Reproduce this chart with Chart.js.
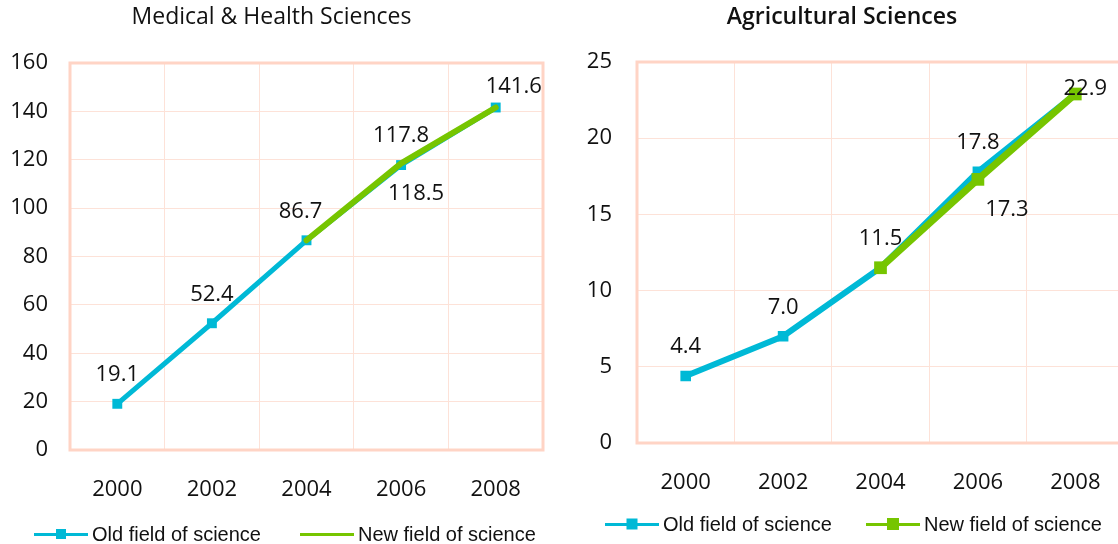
<!DOCTYPE html>
<html lang="en">

<head>
  <meta charset="UTF-8">
  <title>Medical &amp; Health / Agricultural Sciences</title>
  <script src="https://cdn.jsdelivr.net/npm/chart.js"></script>
  <style>
    body {
      margin: 0;
      width: 1118px;
      height: 544px;
      overflow: hidden;
      background: #fff;
      position: relative;
    }

    .painel {
      position: absolute;
      top: 0;
      height: 544px;
    }

    .legenda {
      position: absolute;
      font-family: "Liberation Sans", Arial, sans-serif;
      font-size: 20px;
      color: #111;
      white-space: nowrap;
    }

    .legenda .item {
      position: absolute;
      top: 0;
      display: flex;
      align-items: center;
      height: 24px;
    }

    .legenda .traco {
      position: relative;
      width: 54px;
      height: 3px;
      margin-right: 4px;
    }

    .legenda .quadrado {
      position: absolute;
      left: 50%;
      top: 50%;
      transform: translate(-50%, -50%);
    }
  </style>
</head>

<body>
  <div class="painel" style="left:0;width:560px"><canvas id="grafMed" width="560" height="544"></canvas></div>
  <div class="painel" style="left:560px;width:580px"><canvas id="grafAgr" width="580" height="544"></canvas></div>
  <div class="legenda" id="legMed" style="top:522px"></div>
  <div class="legenda" id="legAgr" style="top:512px"></div>
</body>

</html>

<script>
  // years on the x axis
  const anos = ['2000', '2002', '2004', '2006', '2008'];
  const series = ['Old field of science', 'New field of science'];

  // Medical & Health Sciences
  const medAntigo = [19.1, 52.4, 86.7, 117.8, 141.6];
  const medNovo = [null, null, 86.7, 118.5, 141.6];
  const medTicks = [0, 20, 40, 60, 80, 100, 120, 140, 160];

  // Agricultural Sciences
  const agrAntigo = [4.4, 7.0, 11.5, 17.8, 22.9];
  const agrNovo = [null, null, 11.5, 17.3, 22.9];
  const agrTicks = [0, 5, 10, 15, 20, 25];

  const corAntigo = '#00B9D6';
  const corNovo = '#76C500';
  const corGrade = '#FDE2D8';
  const corMoldura = '#FFD4C5';
  const fonte = '"Open Sans", "DejaVu Sans", sans-serif';

  // writes the value next to each point, shifted by [dx, dy]
  const rotulos = {
    id: 'rotulos',
    afterDatasetsDraw(chart, args, opts) {
      const ctx = chart.ctx;
      ctx.save();
      ctx.font = '22px ' + fonte;
      ctx.fillStyle = '#111';
      ctx.textAlign = 'center';
      ctx.textBaseline = 'middle';
      chart.data.datasets.forEach((ds, i) => {
        const desloc = opts.desloc[i] || [];
        chart.getDatasetMeta(i).data.forEach((pt, j) => {
          const d = desloc[j];
          if (!d || ds.data[j] == null) return;
          ctx.fillText(ds.data[j].toFixed(1), pt.x + d[0], pt.y + d[1]);
        });
      });
      ctx.restore();
    }
  };

  // thick frame round the plot area
  const moldura = {
    id: 'moldura',
    beforeDatasetsDraw(chart, args, opts) {
      const a = chart.chartArea;
      const ctx = chart.ctx;
      ctx.save();
      ctx.strokeStyle = corMoldura;
      ctx.lineWidth = 3;
      ctx.strokeRect(a.left, a.top, a.right - a.left, a.bottom - a.top);
      ctx.restore();
    }
  };

  function montarGrafico(id, cfg) {
    const ticksY = cfg.ticks;
    return new Chart(document.getElementById(id), {
      type: 'line',
      data: {
        labels: anos,
        datasets: [{
          label: series[0],
          data: cfg.antigo,
          borderColor: corAntigo,
          backgroundColor: corAntigo,
          borderWidth: cfg.larguraAntigo,
          pointStyle: 'rect',
          pointRadius: cfg.raioAntigo,
          pointBorderWidth: 0,
          order: 2
        }, {
          label: series[1],
          data: cfg.novo,
          borderColor: corNovo,
          backgroundColor: corNovo,
          borderWidth: cfg.larguraNovo,
          borderCapStyle: 'round',
          borderJoinStyle: 'round',
          pointStyle: 'rect',
          pointRadius: cfg.raioNovo,
          pointBorderWidth: 0,
          order: 1
        }]
      },
      options: {
        responsive: false,
        animation: false,
        events: [],
        layout: { padding: { left: 0, right: cfg.direita, top: 0, bottom: 0 } },
        plugins: {
          legend: { display: false },
          tooltip: { enabled: false },
          title: {
            display: true,
            text: cfg.titulo,
            color: '#111',
            font: { family: fonte, size: 23, weight: cfg.peso },
            padding: { top: 4, bottom: cfg.abaixoTitulo }
          },
          rotulos: { desloc: cfg.desloc }
        },
        scales: {
          x: {
            offset: true,
            grid: { color: corGrade, lineWidth: 1, drawTicks: false, offset: true },
            border: { display: false },
            ticks: { color: '#111', font: { family: fonte, size: 22 }, padding: 27, maxRotation: 0 },
            afterFit: s => { s.height = cfg.alturaX; }
          },
          y: {
            min: ticksY[0],
            max: ticksY[ticksY.length - 1],
            grid: { color: corGrade, lineWidth: 1, drawTicks: false },
            border: { display: false },
            afterBuildTicks: s => { s.ticks = ticksY.map(v => ({ value: v })); },
            ticks: { color: '#111', font: { family: fonte, size: 22 }, padding: cfg.padY },
            afterFit: s => { s.width = cfg.larguraY; }
          }
        }
      },
      plugins: [moldura, rotulos]
    });
  }

  const acima = [0, -29];

  montarGrafico('grafMed', {
    titulo: 'Medical & Health Sciences',
    peso: 'normal',
    antigo: medAntigo,
    novo: medNovo,
    ticks: medTicks,
    larguraAntigo: 5, raioAntigo: 7,
    larguraNovo: 6, raioNovo: 0,
    direita: 17, abaixoTitulo: 31.4, alturaX: 94, larguraY: 70, padY: 22,
    desloc: [[acima, acima, [-6, -29], acima, [18, -21]], [null, null, null, [15, 30], null]]
  });

  montarGrafico('grafAgr', {
    titulo: 'Agricultural Sciences',
    peso: '600',
    antigo: agrAntigo,
    novo: agrNovo,
    ticks: agrTicks,
    larguraAntigo: 6, raioAntigo: 7.5,
    larguraNovo: 7, raioNovo: 9,
    direita: 16, abaixoTitulo: 30.4, alturaX: 101, larguraY: 77, padY: 25,
    desloc: [[acima, acima, acima, acima, [10, -5]], [null, null, null, [29, 30], null]]
  });

  // legends under each chart: line swatch, optional square, then the series name
  function montarLegenda(id, itens) {
    const caixa = document.getElementById(id);
    itens.forEach(it => {
      const el = document.createElement('div');
      el.className = 'item';
      el.style.left = it.x + 'px';
      const traco = document.createElement('span');
      traco.className = 'traco';
      traco.style.background = it.cor;
      if (it.quadrado) {
        const q = document.createElement('span');
        q.className = 'quadrado';
        q.style.width = q.style.height = it.quadrado + 'px';
        q.style.background = it.cor;
        traco.appendChild(q);
      }
      el.appendChild(traco);
      el.appendChild(document.createTextNode(it.texto));
      caixa.appendChild(el);
    });
  }

  montarLegenda('legMed', [
    { x: 34, cor: corAntigo, quadrado: 10, texto: series[0] },
    { x: 300, cor: corNovo, quadrado: 0, texto: series[1] }
  ]);
  montarLegenda('legAgr', [
    { x: 605, cor: corAntigo, quadrado: 11, texto: series[0] },
    { x: 866, cor: corNovo, quadrado: 12, texto: series[1] }
  ]);
</script>
